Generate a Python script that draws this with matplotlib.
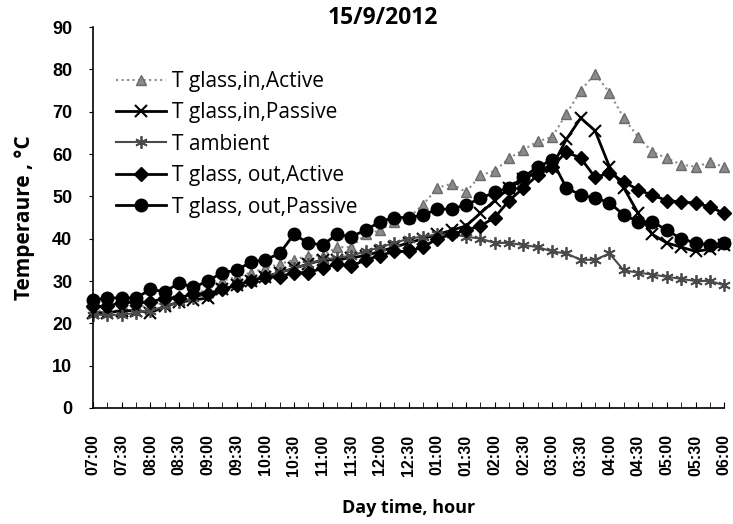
import numpy as np
import matplotlib.pyplot as plt
import matplotlib as mpl

mpl.rcParams['font.family'] = 'Liberation Sans'

# time of day, every 15 minutes, labels every 30 min
tick_labels = ['07:00', '07:30', '08:00', '08:30', '09:00', '09:30', '10:00', '10:30',
               '11:00', '11:30', '12:00', '12:30', '01:00', '01:30', '02:00', '02:30',
               '03:00', '03:30', '04:00', '04:30', '05:00', '05:30', '06:00']

t_in_active = [23, 23, 23, 24, 24, 25, 26, 27, 28, 30, 31, 32, 33, 34, 35, 36,
               36, 38, 38, 41, 42, 44, 45, 48, 52, 53, 51, 55, 56, 59, 61, 63,
               64, 69.5, 75, 79, 74.5, 68.5, 64, 60.5, 59, 57.5, 57, 58, 57]
t_in_passive = [22.5, 22.5, 23, 23, 22.5, 24, 25, 25.5, 26, 28, 29, 30, 31, 32, 33, 34,
                35, 35, 35.5, 36, 37, 38, 39, 40, 41, 42, 43, 46, 49, 52, 54, 56,
                57, 63.5, 68.5, 65.5, 57, 52, 46, 41, 39, 38, 37, 37.5, 38.5]
t_ambient = [22, 22, 22, 22.5, 23, 24, 25, 26, 27, 28, 29, 30, 31, 32, 33, 34,
             35, 35.5, 36, 37, 38, 39, 40, 40.5, 41, 41, 40.5, 40, 39, 39, 38.5, 38,
             37, 36.5, 35, 35, 36.5, 32.5, 32, 31.5, 31, 30.5, 30, 30, 29]
t_out_active = [24, 24, 25, 25, 25, 26, 26, 27, 27, 28, 29, 30, 31, 31, 32, 32,
                33, 34, 33.5, 35, 36, 37, 37, 38, 40, 41, 42, 43, 45, 49, 52, 55,
                57, 60.5, 59, 54.5, 55.5, 53.5, 51.5, 50.3, 49, 48.7, 48.4, 47.5, 46]
t_out_passive = [25.5, 26, 26, 26, 28, 27.5, 29.5, 28.5, 30, 32, 32.5, 34.5, 35, 36.5, 41, 39,
                 38.5, 41, 40.5, 42, 44, 45, 45, 45.5, 47, 47, 48, 49.5, 51, 52, 54.5, 57,
                 58.5, 52, 50.3, 49.6, 48.5, 45.6, 44, 44, 42, 40, 39, 38.5, 39]

x = np.arange(len(t_in_active))

fig = plt.figure(figsize=(7.33, 5.24), dpi=100)
ax = fig.add_axes([0.127, 0.2214, 0.861, 0.727])

ax.plot(x, t_in_active, color='#8a8a8a', linestyle=':', linewidth=1.5, marker='^',
        markersize=7, markerfacecolor='#8a8a8a', markeredgecolor='#6a6a6a',
        label='T glass,in,Active', clip_on=False)
ax.plot(x, t_in_passive, color='black', linewidth=2, marker='x', markersize=8,
        markeredgewidth=1.5, label='T glass,in,Passive', clip_on=False)
ax.plot(x, t_ambient, color='#4a4a4a', linewidth=1.5, marker=(6, 2, 0), markersize=9,
        markeredgewidth=1.3, label='T ambient', clip_on=False)
ax.plot(x, t_out_active, color='black', linewidth=2, marker='D', markersize=7,
        label='T glass, out,Active', clip_on=False)
ax.plot(x, t_out_passive, color='black', linewidth=2, marker='o', markersize=9,
        label='T glass, out,Passive', clip_on=False)

ax.set_xlim(0, 44)
ax.set_ylim(0, 90)
ax.set_yticks(range(0, 91, 10))
ax.set_xticks(range(0, 45, 2))
ax.set_xticks(range(0, 45), minor=True)
ax.set_xticklabels(tick_labels, rotation=90, fontsize=11.5, fontweight='bold')
for lab in ax.get_yticklabels():
    lab.set_fontsize(13)
    lab.set_fontweight('bold')

ax.spines['top'].set_visible(False)
ax.spines['right'].set_visible(False)
ax.spines['left'].set_linewidth(1.2)
ax.spines['bottom'].set_linewidth(1.2)
ax.tick_params(axis='y', direction='out', length=3, pad=12)
ax.tick_params(axis='x', which='both', direction='in', length=4, pad=19)

fig.text(383 / 733, 1 - 18 / 524, '15/9/2012', fontsize=16.5, fontweight='bold',
         family='Open Sans', ha='center', va='center')
ax.set_xlabel('Day time, hour', fontsize=13, fontweight='bold', family='Open Sans', labelpad=17)
ax.set_ylabel('Temperaure , \u00b0C', fontsize=15, fontweight='bold', family='Open Sans', labelpad=12)

ax.legend(loc='upper left', bbox_to_anchor=(0.036, 0.885), frameon=False,
          prop={'family': 'Open Sans', 'size': 15}, handlelength=2.4,
          handletextpad=0.3, labelspacing=0.5, borderaxespad=0, borderpad=0)

plt.savefig('out.png', dpi=100)
